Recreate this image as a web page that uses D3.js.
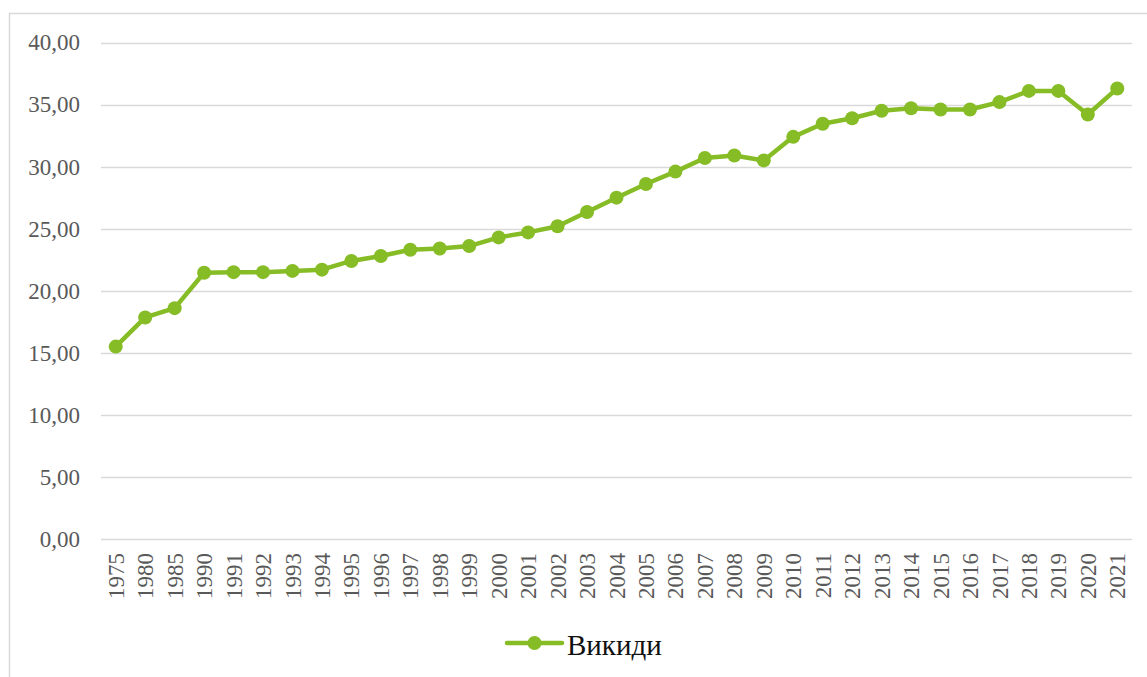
<!DOCTYPE html>
<html>
<head>
<meta charset="utf-8">
<script src="https://cdn.jsdelivr.net/npm/d3@7"></script>
<style>
  body { margin: 0; background: #fff; }
  svg { display: block; }
</style>
</head>
<body>
<div id="chart"></div>
<script>

// Data
var years = ["1975","1980","1985","1990","1991","1992","1993","1994","1995","1996",
             "1997","1998","1999","2000","2001","2002","2003","2004","2005","2006",
             "2007","2008","2009","2010","2011","2012","2013","2014","2015","2016",
             "2017","2018","2019","2020","2021"];
var values = [15.5, 17.85, 18.6, 21.45, 21.5, 21.5, 21.6, 21.7, 22.4, 22.8,
              23.3, 23.4, 23.6, 24.3, 24.7, 25.2, 26.35, 27.5, 28.6, 29.6,
              30.7, 30.9, 30.5, 32.4, 33.45, 33.9, 34.5, 34.7, 34.6, 34.6,
              35.2, 36.1, 36.1, 34.2, 36.3];
var yTicks = [0, 5, 10, 15, 20, 25, 30, 35, 40];
var seriesName = "Викиди";

var width = 1147, height = 677;
var margin = {top: 42.5, right: 15, bottom: 138, left: 101};
var green = "#86bc25";
var font = "'Liberation Serif', 'Times New Roman', serif";

var svg = d3.select("#chart").append("svg")
    .attr("width", width)
    .attr("height", height);

// chart frame
svg.append("rect")
    .attr("x", 9.5).attr("y", 13.5)
    .attr("width", width + 10).attr("height", height + 10)
    .attr("fill", "none")
    .attr("stroke", "#d9d9d9")
    .attr("stroke-width", 1.5);

var x = d3.scaleBand()
    .domain(years)
    .range([margin.left, 1132]);

var y = d3.scaleLinear()
    .domain([0, 40])
    .range([539, margin.top]);

// gridlines
svg.append("g")
    .selectAll("line")
    .data(yTicks)
    .enter()
    .append("line")
    .attr("x1", margin.left)
    .attr("x2", 1132)
    .attr("y1", function(d){ return Math.round(y(d)) + 0.5; })
    .attr("y2", function(d){ return Math.round(y(d)) + 0.5; })
    .attr("stroke", "#d9d9d9")
    .attr("stroke-width", 1.5);

// y axis labels
var yAxis = d3.axisLeft(y)
    .tickValues(yTicks)
    .tickSize(0)
    .tickPadding(0)
    .tickFormat(function(d){ return d3.format(".2f")(d).replace(".", ","); });

svg.append("g")
    .attr("transform", "translate(80,0)")
    .call(yAxis)
    .call(function(g){ g.select(".domain").remove(); })
    .selectAll("text")
    .attr("font-family", font)
    .attr("font-size", "23px")
    .attr("fill", "#595959");

// x axis labels (rotated)
var xAxis = d3.axisBottom(x).tickSize(0).tickPadding(0);

svg.append("g")
    .attr("transform", "translate(0,553)")
    .call(xAxis)
    .call(function(g){ g.select(".domain").remove(); })
    .selectAll("text")
    .attr("font-family", font)
    .attr("font-size", "23px")
    .attr("fill", "#595959")
    .attr("transform", "rotate(-90)")
    .attr("text-anchor", "end")
    .attr("dy", "0.35em")
    .attr("dx", "0")
    .attr("x", 0)
    .attr("y", 0);

// line
var line = d3.line()
    .x(function(d, i){ return x(years[i]) + x.bandwidth() / 2; })
    .y(function(d){ return y(d); });

svg.append("path")
    .datum(values)
    .attr("d", line)
    .attr("fill", "none")
    .attr("stroke", green)
    .attr("stroke-width", 4.5)
    .attr("stroke-linejoin", "round");

svg.append("g")
    .selectAll("circle")
    .data(values)
    .enter()
    .append("circle")
    .attr("cx", function(d, i){ return x(years[i]) + x.bandwidth() / 2; })
    .attr("cy", function(d){ return y(d); })
    .attr("r", 7)
    .attr("fill", green);

// legend
var legend = svg.append("g").attr("transform", "translate(507,643)");
legend.append("line")
    .attr("x1", 0).attr("x2", 55)
    .attr("y1", 0).attr("y2", 0)
    .attr("stroke", green)
    .attr("stroke-width", 4.5)
    .attr("stroke-linecap", "round");
legend.append("circle")
    .attr("cx", 27.5).attr("cy", 0)
    .attr("r", 7)
    .attr("fill", green);
legend.append("text")
    .attr("x", 60)
    .attr("y", 12)
    .attr("font-family", font)
    .attr("font-size", "29px")
    .attr("fill", "#111")
    .text(seriesName);

</script>
</body>
</html>
